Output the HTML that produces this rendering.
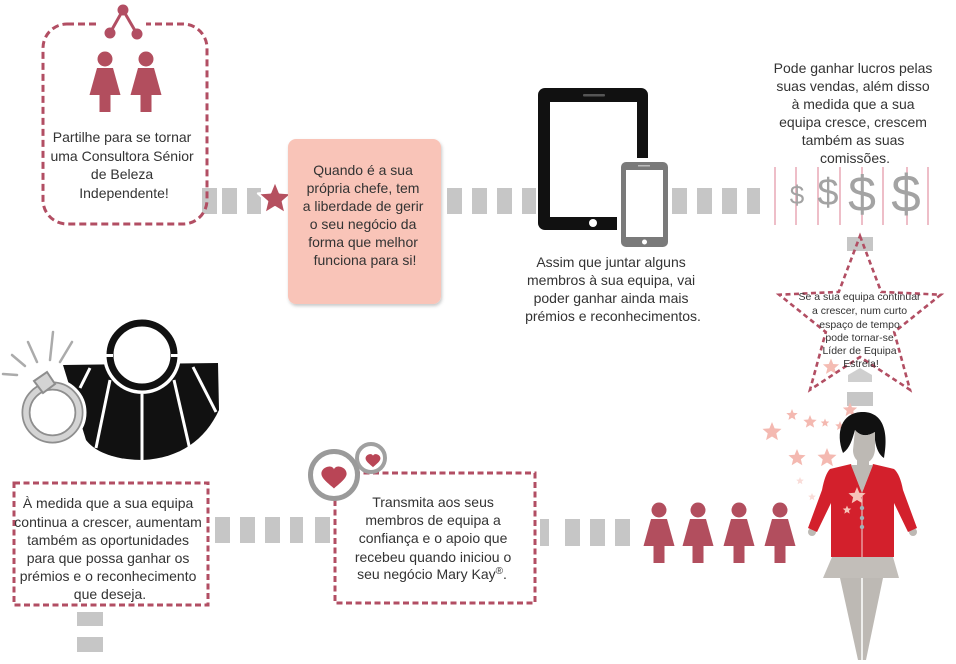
<!DOCTYPE html>
<html>
<head>
<meta charset="utf-8">
<style>
html,body{margin:0;padding:0;background:#fff;}
body{width:956px;height:664px;overflow:hidden;}
svg{display:block;}
text{font-family:"Liberation Sans",Arial,sans-serif;fill:#333;}
</style>
</head>
<body>
<svg width="956" height="664" viewBox="0 0 956 664" xmlns="http://www.w3.org/2000/svg">
<defs>
  <filter id="sh" x="-10%" y="-10%" width="130%" height="130%">
    <feDropShadow dx="1" dy="2" stdDeviation="1.5" flood-color="#000" flood-opacity="0.22"/>
  </filter>
</defs>
<rect width="956" height="664" fill="#fff"/>

<!-- ===== top row gray connector rects ===== -->
<g fill="#c6c6c6">
  <rect x="202" y="188" width="15" height="26"/>
  <rect x="222" y="188" width="15" height="26"/>
  <rect x="247" y="188" width="14" height="26"/>
  <rect x="447" y="188" width="15" height="26"/>
  <rect x="472" y="188" width="15" height="26"/>
  <rect x="497" y="188" width="15" height="26"/>
  <rect x="522" y="188" width="14" height="26"/>
  <rect x="672" y="188" width="15" height="26"/>
  <rect x="697" y="188" width="15" height="26"/>
  <rect x="722" y="188" width="15" height="26"/>
  <rect x="747" y="188" width="13" height="26"/>
</g>

<!-- ===== top-left dashed rounded box ===== -->
<rect x="43" y="24" width="164" height="200" rx="24" ry="24" fill="none" stroke="#b24e63" stroke-width="3" stroke-dasharray="7 4"/>
<rect x="98" y="18" width="48" height="12" fill="#fff"/>
<!-- share icon -->
<g stroke="#b24e63" stroke-width="3" fill="none">
  <line x1="123" y1="10" x2="110" y2="33"/>
  <line x1="123" y1="10" x2="137" y2="34"/>
</g>
<g fill="#b24e63">
  <circle cx="123" cy="10" r="5.5"/>
  <circle cx="110" cy="33" r="5.5"/>
  <circle cx="137" cy="34" r="5.5"/>
</g>
<!-- two women -->
<g fill="#b24e5e">
  <g transform="translate(105,59)">
    <circle cx="0" cy="0" r="7.5"/>
    <path d="M-8,9 L8,9 L15.5,36 L-15.5,36 Z"/>
    <rect x="-5.5" y="36" width="11" height="17"/>
  </g>
  <g transform="translate(146,59)">
    <circle cx="0" cy="0" r="7.5"/>
    <path d="M-8,9 L8,9 L15.5,36 L-15.5,36 Z"/>
    <rect x="-5.5" y="36" width="11" height="17"/>
  </g>
</g>
<text font-size="14" text-anchor="middle">
  <tspan x="124" y="142">Partilhe para se tornar</tspan>
  <tspan x="124" y="161">uma Consultora Sénior</tspan>
  <tspan x="124" y="179">de Beleza</tspan>
  <tspan x="124" y="198">Independente!</tspan>
</text>

<!-- ===== red star ===== -->
<g transform="translate(275,199) scale(1.8)">
  <polygon points="0,-10 2.6,-3.6 9.5,-3.1 4.3,1.4 5.9,8.1 0,4.5 -5.9,8.1 -4.3,1.4 -9.5,-3.1 -2.6,-3.6" fill="#b5505f" stroke="#fff" stroke-width="1.2" stroke-linejoin="round"/>
</g>

<!-- ===== pink box ===== -->
<rect x="288" y="139" width="153" height="165" rx="8" ry="8" fill="#f9c4b8" filter="url(#sh)"/>
<text font-size="14" text-anchor="middle">
  <tspan x="365" y="175">Quando é a sua</tspan>
  <tspan x="365" y="193">própria chefe, tem</tspan>
  <tspan x="365" y="211">a liberdade de gerir</tspan>
  <tspan x="365" y="229">o seu negócio da</tspan>
  <tspan x="365" y="247">forma que melhor</tspan>
  <tspan x="365" y="265">funciona para si!</tspan>
</text>

<!-- ===== tablet & phone ===== -->
<rect x="538" y="88" width="110" height="142" rx="7" ry="7" fill="#111"/>
<rect x="550" y="102" width="87" height="115" fill="#fff"/>
<rect x="583" y="94" width="22" height="2.5" rx="1" fill="#555"/>
<circle cx="593" cy="223" r="4" fill="#fff"/>
<rect x="617" y="158" width="55" height="93" rx="7" ry="7" fill="#fff"/>
<rect x="621" y="162" width="47" height="85" rx="5" ry="5" fill="#7a7a7a"/>
<rect x="626" y="170" width="37" height="67" fill="#fff"/>
<rect x="638" y="165" width="12" height="1.5" fill="#bbb"/>
<circle cx="644.5" cy="242" r="2.5" fill="#fff"/>
<text font-size="14" text-anchor="middle">
  <tspan x="613" y="267">Assim que juntar alguns</tspan>
  <tspan x="613" y="285">membros à sua equipa, vai</tspan>
  <tspan x="613" y="303">poder ganhar ainda mais</tspan>
  <tspan x="613" y="321">prémios e reconhecimentos.</tspan>
</text>

<!-- ===== top-right text & dollars ===== -->
<text font-size="14" text-anchor="middle">
  <tspan x="855" y="73">Pode ganhar lucros pelas</tspan>
  <tspan x="855" y="91">suas vendas, além disso</tspan>
  <tspan x="855" y="109">à medida que a sua</tspan>
  <tspan x="855" y="127">equipa cresce, crescem</tspan>
  <tspan x="855" y="145">também as suas</tspan>
  <tspan x="855" y="163">comissões.</tspan>
</text>
<g stroke="#e8a9b6" stroke-width="1.5">
  <line x1="775" y1="167" x2="775" y2="225"/>
  <line x1="796" y1="167" x2="796" y2="225"/>
  <line x1="818" y1="167" x2="818" y2="225"/>
  <line x1="840" y1="167" x2="840" y2="225"/>
  <line x1="862" y1="167" x2="862" y2="225"/>
  <line x1="883" y1="167" x2="883" y2="225"/>
  <line x1="907" y1="167" x2="907" y2="225"/>
  <line x1="928" y1="167" x2="928" y2="225"/>
</g>
<g text-anchor="middle" style="fill:#a3a3a3">
  <text x="797" y="204" font-size="26" style="fill:#a3a3a3">$</text>
  <text x="828" y="205" font-size="38" style="fill:#a3a3a3">$</text>
  <text x="862" y="211" font-size="50" style="fill:#a3a3a3">$</text>
  <text x="906" y="212" font-size="53" style="fill:#a3a3a3">$</text>
</g>

<!-- ===== dashed star ===== -->
<rect x="847" y="237" width="26" height="14" fill="#c6c6c6"/>
<polygon points="848,382 848,375 860,368 872,375 872,382" fill="#cfcfcf"/>
<g transform="translate(831,367) scale(0.85)"><polygon points="0,-10 2.6,-3.6 9.5,-3.1 4.3,1.4 5.9,8.1 0,4.5 -5.9,8.1 -4.3,1.4 -9.5,-3.1 -2.6,-3.6" fill="#f4bcb3"/></g>
<polygon points="860,236 881.2,291.9 940.8,294.7 894.2,332.1 910,389.8 860,357 810,389.8 825.8,332.1 779.2,294.7 838.8,291.9" fill="none" stroke="#b24e63" stroke-width="2.6" stroke-dasharray="5 3.5"/>
<text font-size="10.5" text-anchor="middle">
  <tspan x="861" y="300">Se a sua equipa continuar</tspan>
  <tspan x="861" y="314">a crescer, num curto</tspan>
  <tspan x="861" y="328">espaço de tempo</tspan>
  <tspan x="861" y="341">pode tornar-se</tspan>
  <tspan x="861" y="354">Líder de Equipa</tspan>
  <tspan x="861" y="367">Estrela!</tspan>
</text>
<rect x="847" y="392" width="26" height="14" fill="#c6c6c6"/>

<!-- ===== scattered pink stars ===== -->
<g fill="#f4b9b1">
  <g transform="translate(772,432) scale(1.0)"><polygon points="0,-10 2.6,-3.6 9.5,-3.1 4.3,1.4 5.9,8.1 0,4.5 -5.9,8.1 -4.3,1.4 -9.5,-3.1 -2.6,-3.6"/></g>
  <g transform="translate(792,415) scale(0.6)"><polygon points="0,-10 2.6,-3.6 9.5,-3.1 4.3,1.4 5.9,8.1 0,4.5 -5.9,8.1 -4.3,1.4 -9.5,-3.1 -2.6,-3.6"/></g>
  <g transform="translate(810,422) scale(0.7)"><polygon points="0,-10 2.6,-3.6 9.5,-3.1 4.3,1.4 5.9,8.1 0,4.5 -5.9,8.1 -4.3,1.4 -9.5,-3.1 -2.6,-3.6"/></g>
  <g transform="translate(825,423) scale(0.45)"><polygon points="0,-10 2.6,-3.6 9.5,-3.1 4.3,1.4 5.9,8.1 0,4.5 -5.9,8.1 -4.3,1.4 -9.5,-3.1 -2.6,-3.6"/></g>
  <g transform="translate(850,410) scale(0.75)"><polygon points="0,-10 2.6,-3.6 9.5,-3.1 4.3,1.4 5.9,8.1 0,4.5 -5.9,8.1 -4.3,1.4 -9.5,-3.1 -2.6,-3.6"/></g>
  <g transform="translate(840,426) scale(0.5)"><polygon points="0,-10 2.6,-3.6 9.5,-3.1 4.3,1.4 5.9,8.1 0,4.5 -5.9,8.1 -4.3,1.4 -9.5,-3.1 -2.6,-3.6"/></g>
  <g transform="translate(797,458) scale(0.9)"><polygon points="0,-10 2.6,-3.6 9.5,-3.1 4.3,1.4 5.9,8.1 0,4.5 -5.9,8.1 -4.3,1.4 -9.5,-3.1 -2.6,-3.6"/></g>
  <g transform="translate(827,458) scale(1.0)"><polygon points="0,-10 2.6,-3.6 9.5,-3.1 4.3,1.4 5.9,8.1 0,4.5 -5.9,8.1 -4.3,1.4 -9.5,-3.1 -2.6,-3.6"/></g>
  <g transform="translate(800,481) scale(0.4)" opacity="0.5"><polygon points="0,-10 2.6,-3.6 9.5,-3.1 4.3,1.4 5.9,8.1 0,4.5 -5.9,8.1 -4.3,1.4 -9.5,-3.1 -2.6,-3.6"/></g>
  <g transform="translate(812,497) scale(0.4)" opacity="0.5"><polygon points="0,-10 2.6,-3.6 9.5,-3.1 4.3,1.4 5.9,8.1 0,4.5 -5.9,8.1 -4.3,1.4 -9.5,-3.1 -2.6,-3.6"/></g>
</g>

<!-- ===== woman figure (bottom right) ===== -->
<path d="M840,578 L883,578 L866,660 L858,660 Z" fill="#bdb9b4"/>
<line x1="862" y1="578" x2="862" y2="660" stroke="#fff" stroke-width="1.5"/>
<path d="M832,557 L893,557 L899,578 L823,578 Z" fill="#c2beb9"/>
<circle cx="812" cy="532" r="4" fill="#bdb9b4"/>
<circle cx="913" cy="532" r="4" fill="#bdb9b4"/>
<path d="M830,469 L851,464 L862,493 L873,464 L894,469 Q900,474 903,490 L917,528 L908,532 L894,503 L894,557 L831,557 L831,503 L817,532 L808,528 L822,490 Q825,474 830,469 Z" fill="#d3202c"/>
<rect x="857" y="455" width="12" height="12" fill="#bdb9b4"/>
<path d="M851,465 L873,465 L862,493 Z" fill="#bdb9b4"/>
<line x1="862" y1="493" x2="862" y2="557" stroke="#f3d6d6" stroke-width="1"/>
<path d="M843,453 C835,432 842,413 861,412 C879,411 890,425 884,458 C879,455 876,448 875,440 L875,432 C867,437 860,436 855,430 C852,440 850,448 843,453 Z" fill="#111"/>
<path d="M855,430 C860,436 867,437 875,432 L875,450 C874,459 869,463 864,463 C858,463 853,458 853,450 Z" fill="#bdb9b4"/>
<g transform="translate(857,496) scale(0.9)"><polygon points="0,-10 2.6,-3.6 9.5,-3.1 4.3,1.4 5.9,8.1 0,4.5 -5.9,8.1 -4.3,1.4 -9.5,-3.1 -2.6,-3.6" fill="#f6c3b8"/></g>
<g transform="translate(847,510) scale(0.45)"><polygon points="0,-10 2.6,-3.6 9.5,-3.1 4.3,1.4 5.9,8.1 0,4.5 -5.9,8.1 -4.3,1.4 -9.5,-3.1 -2.6,-3.6" fill="#f6c3b8"/></g>
<g fill="#9fb3b8">
  <circle cx="862" cy="508" r="2.2"/>
  <circle cx="862" cy="518" r="2.2"/>
  <circle cx="862" cy="527" r="2.2"/>
</g>

<!-- ===== bottom row women ===== -->
<g fill="#b24e5e">
  <g transform="translate(659,510)">
    <circle cx="0" cy="0" r="7.5"/>
    <path d="M-8,9 L8,9 L15.5,36 L-15.5,36 Z"/>
    <rect x="-5.5" y="36" width="11" height="17"/>
  </g>
  <g transform="translate(698,510)">
    <circle cx="0" cy="0" r="7.5"/>
    <path d="M-8,9 L8,9 L15.5,36 L-15.5,36 Z"/>
    <rect x="-5.5" y="36" width="11" height="17"/>
  </g>
  <g transform="translate(739,510)">
    <circle cx="0" cy="0" r="7.5"/>
    <path d="M-8,9 L8,9 L15.5,36 L-15.5,36 Z"/>
    <rect x="-5.5" y="36" width="11" height="17"/>
  </g>
  <g transform="translate(780,510)">
    <circle cx="0" cy="0" r="7.5"/>
    <path d="M-8,9 L8,9 L15.5,36 L-15.5,36 Z"/>
    <rect x="-5.5" y="36" width="11" height="17"/>
  </g>
</g>

<!-- ===== bottom row gray rects ===== -->
<g fill="#c6c6c6">
  <rect x="215" y="517" width="15" height="26"/>
  <rect x="240" y="517" width="15" height="26"/>
  <rect x="265" y="517" width="15" height="26"/>
  <rect x="290" y="517" width="13" height="26"/>
  <rect x="315" y="517" width="15" height="26"/>
  <rect x="540" y="519" width="9" height="27"/>
  <rect x="565" y="519" width="15" height="27"/>
  <rect x="590" y="519" width="15" height="27"/>
  <rect x="615" y="519" width="15" height="27"/>
  <rect x="77" y="612" width="26" height="14"/>
  <rect x="77" y="637" width="26" height="15"/>
</g>

<!-- ===== bag & ring ===== -->
<path d="M63,365 L218,363 L219,410 C205,440 180,458 143,460 C115,460 95,452 86,440 Z" fill="#111"/>
<circle cx="142" cy="355" r="39" fill="#fff"/>
<circle cx="142" cy="355" r="32" fill="none" stroke="#111" stroke-width="7"/>
<rect x="103" y="354" width="10" height="3" fill="#fff"/>
<rect x="171" y="354" width="10" height="3" fill="#fff"/>
<g stroke="#fff" stroke-width="3">
  <line x1="90" y1="368" x2="80" y2="388"/>
  <line x1="110" y1="380" x2="96" y2="448"/>
  <line x1="142" y1="394" x2="142" y2="462"/>
  <line x1="174" y1="380" x2="190" y2="450"/>
  <line x1="193" y1="367" x2="216" y2="412"/>
</g>
<circle cx="52.5" cy="412.5" r="27" fill="none" stroke="#fff" stroke-width="14"/>
<circle cx="52.5" cy="412.5" r="26.5" fill="none" stroke="#8e8e8e" stroke-width="9"/>
<circle cx="52.5" cy="412.5" r="26.5" fill="none" stroke="#d4d4d4" stroke-width="5.5"/>
<path d="M34,381 L47,372 L55,384 L43,393 Z" fill="#d4d4d4" stroke="#8e8e8e" stroke-width="2"/>
<g stroke="#ababab" stroke-width="2.5" stroke-linecap="round">
  <line x1="3" y1="374" x2="17" y2="375"/>
  <line x1="12" y1="355" x2="25" y2="366"/>
  <line x1="28" y1="342" x2="37" y2="362"/>
  <line x1="53" y1="332" x2="50" y2="360"/>
  <line x1="72" y1="342" x2="60" y2="362"/>
</g>

<!-- ===== bottom-left dashed box ===== -->
<rect x="14" y="483" width="194" height="122" fill="none" stroke="#b24e63" stroke-width="3" stroke-dasharray="6 3.5"/>
<text font-size="14" text-anchor="middle">
  <tspan x="110" y="508">À medida que a sua equipa</tspan>
  <tspan x="110" y="527">continua a crescer, aumentam</tspan>
  <tspan x="110" y="545">também as oportunidades</tspan>
  <tspan x="110" y="563">para que possa ganhar os</tspan>
  <tspan x="110" y="581">prémios e o reconhecimento</tspan>
  <tspan x="110" y="599">que deseja.</tspan>
</text>

<!-- ===== hearts box ===== -->
<rect x="335" y="473" width="200" height="130" fill="none" stroke="#b24e63" stroke-width="3" stroke-dasharray="6 3.5"/>
<circle cx="371" cy="458" r="14" fill="#fff" stroke="#a0a0a0" stroke-width="4"/>
<g transform="translate(373,461) scale(0.62)"><path d="M0,10 C-3,7 -12,1 -12,-4 C-12,-9 -7,-11 -4,-11 C-2,-11 0,-9.5 0,-8 C0,-9.5 2,-11 4,-11 C7,-11 12,-9 12,-4 C12,1 3,7 0,10 Z" fill="#b94556"/></g>
<circle cx="334" cy="475" r="23.5" fill="#fff" stroke="#9a9a9a" stroke-width="5"/>
<g transform="translate(334,478) scale(1.05)"><path d="M0,10 C-3,7 -12,1 -12,-4 C-12,-9 -7,-11 -4,-11 C-2,-11 0,-9.5 0,-8 C0,-9.5 2,-11 4,-11 C7,-11 12,-9 12,-4 C12,1 3,7 0,10 Z" fill="#b94556"/></g>
<text font-size="14" text-anchor="middle">
  <tspan x="435" y="507">Transmita aos seus</tspan>
  <tspan x="435" y="525">membros de equipa a</tspan>
  <tspan x="435" y="543">confiança e o apoio que</tspan>
  <tspan x="435" y="562">recebeu quando iniciou o</tspan>
  <tspan x="432" y="579">seu negócio Mary Kay<tspan font-size="10" dy="-5">®</tspan><tspan dy="5">.</tspan></tspan>
</text>
</svg>
</body>
</html>
